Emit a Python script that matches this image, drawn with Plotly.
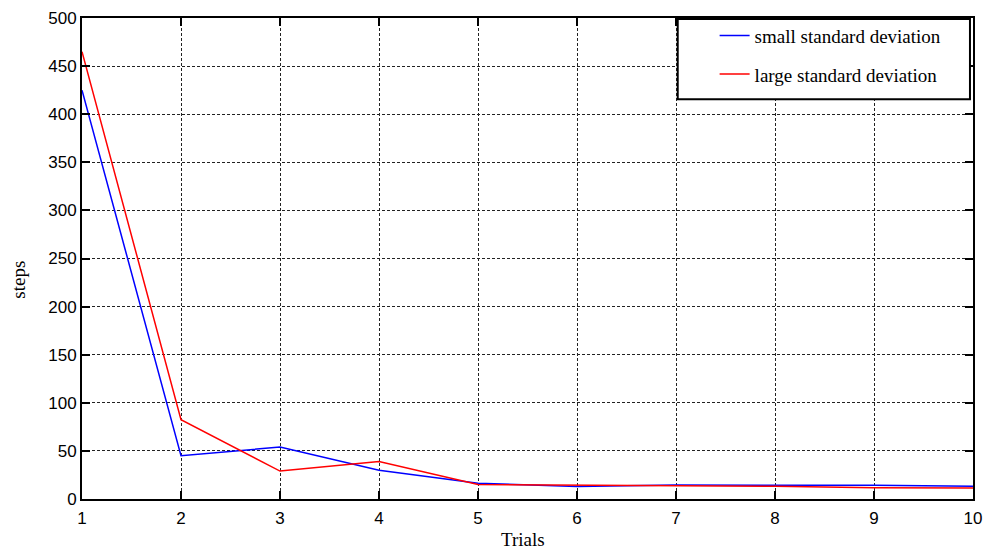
import plotly.graph_objects as go

trials = [1, 2, 3, 4, 5, 6, 7, 8, 9, 10]
small_sd = [425, 45, 54, 30, 16.5, 13, 14.5, 14.5, 14.3, 13.2]
large_sd = [465, 82.5, 29, 39, 15, 14.5, 13.6, 13.2, 11.8, 11.5]
y_ticks = [0, 50, 100, 150, 200, 250, 300, 350, 400, 450, 500]

fig = go.Figure()
fig.add_trace(go.Scatter(x=trials, y=small_sd, mode="lines", name="small standard deviation",
                         line=dict(color="#0000ff", width=1.5), legendgroup="a"))
fig.add_trace(go.Scatter(x=trials, y=large_sd, mode="lines", name="large standard deviation",
                         line=dict(color="#ff0000", width=1.5), legendgroup="b"))

axis_common = dict(
    showline=True, linecolor="black", linewidth=2, mirror="ticks",
    ticks="inside", ticklen=8, tickwidth=1.5, tickcolor="black",
    showgrid=True, gridcolor="#222222", gridwidth=1, griddash="3px,2px",
    zeroline=False, automargin=False,
    tickfont=dict(family="Liberation Sans, Arial", size=17, color="black"),
)

serif = "Liberation Serif, Times New Roman"
fig.update_xaxes(range=[1, 10], tickvals=trials, ticklabelstandoff=3, **axis_common)
fig.update_yaxes(range=[0, 500], tickvals=y_ticks, **axis_common)

fig.add_annotation(text="steps", xref="paper", yref="paper", x=-0.0707, y=0.456,
                   xanchor="center", yanchor="middle", textangle=-90, showarrow=False,
                   font=dict(family=serif, size=19, color="black"))
fig.add_annotation(text="Trials", xref="paper", yref="paper", x=0.4944, y=-0.085,
                   xanchor="center", yanchor="middle", showarrow=False,
                   font=dict(family=serif, size=19, color="black"))

fig.add_shape(type="rect", xref="paper", yref="paper", x0=0.6686, x1=0.9966, y0=0.8313, y1=0.9979,
              line=dict(color="black", width=2), fillcolor="white", layer="above")

fig.update_layout(
    width=997, height=554,
    margin=dict(l=82, r=24, t=18, b=55),
    plot_bgcolor="white", paper_bgcolor="white",
    legend=dict(x=0.71, y=1.003, xanchor="left", yanchor="top", bgcolor="rgba(0,0,0,0)",
                borderwidth=0, tracegroupgap=11,
                font=dict(family=serif, size=19, color="black")),
)

fig.write_html("out.html")
